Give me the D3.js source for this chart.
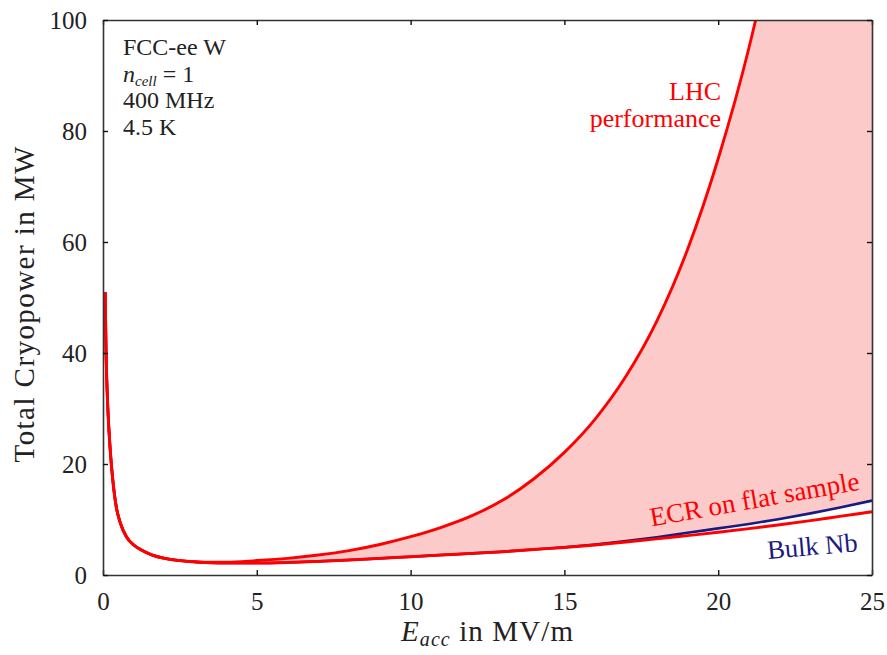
<!DOCTYPE html>
<html>
<head>
<meta charset="utf-8">
<script src="https://cdn.jsdelivr.net/npm/d3@7"></script>
<style>
  html, body { margin: 0; padding: 0; background: #fff; }
  svg { display: block; }
  text { font-family: "Liberation Serif", "DejaVu Serif", serif; }
</style>
</head>
<body>
<svg id="chart" width="887" height="655"></svg>
<script>
// ---- data ----
const eacc = [0.07, 0.1, 0.15, 0.2, 0.27, 0.35, 0.43, 0.55, 0.76, 1.0, 1.25, 1.6, 2.0, 2.5, 3.0, 3.5, 4, 5, 6, 7, 8, 9, 10, 11, 12, 13, 14, 15, 16, 17, 18, 19, 20, 21, 22, 23, 24, 25];
const bulkNb = [51, 40, 31, 25.5, 20, 15.5, 12.3, 9.6, 6.9, 5.4, 4.5, 3.6, 3.0, 2.6, 2.35, 2.2, 2.15, 2.15, 2.25, 2.45, 2.7, 3.0, 3.3, 3.6, 3.9, 4.2, 4.6, 5.0, 5.5, 6.1, 6.8, 7.6, 8.4, 9.2, 10.1, 11.1, 12.2, 13.4];
const ecrFlat = [51, 40, 31, 25.5, 20, 15.5, 12.3, 9.6, 6.9, 5.4, 4.5, 3.6, 3.0, 2.6, 2.35, 2.2, 2.15, 2.15, 2.25, 2.45, 2.7, 3.0, 3.3, 3.6, 3.9, 4.2, 4.6, 4.95, 5.4, 5.95, 6.5, 7.1, 7.7, 8.35, 9.05, 9.8, 10.6, 11.4];
const lhcPerf = [51, 40, 31, 25.5, 20, 15.5, 12.3, 9.6, 6.9, 5.4, 4.5, 3.6, 3.0, 2.6, 2.4, 2.3, 2.3, 2.6, 3.0, 3.6, 4.4, 5.5, 6.9, 8.6, 10.7, 13.5, 17.3, 22.1, 28.1, 35.8, 45.7, 58.6, 75, 95, 120, 150, 188, 235];
const xTicks = [0, 5, 10, 15, 20, 25];
const yTicks = [0, 20, 40, 60, 80, 100];
const infoLines = ["FCC-ee W", "n_cell = 1", "400 MHz", "4.5 K"];

// ---- layout ----
const svg = d3.select("#chart");
const mL = 103, mR = 872, mT = 20, mB = 575;
const x = d3.scaleLinear().domain([0, 25]).range([mL, mR]);
const y = d3.scaleLinear().domain([0, 100]).range([mB, mT]);

svg.append("defs").append("clipPath").attr("id", "plotclip")
  .append("rect").attr("x", mL).attr("y", mT).attr("width", mR - mL).attr("height", mB - mT);

const plot = svg.append("g").attr("clip-path", "url(#plotclip)");

// fill between bulk Nb and LHC
const fillData = lhcPerf.map((v, i) => ({ e: eacc[i], lo: bulkNb[i], hi: v }));
plot.append("path").datum(fillData)
  .attr("fill", "#fdcaca")
  .attr("d", d3.area().x(d => x(d.e)).y0(d => y(d.lo)).y1(d => y(d.hi)).curve(d3.curveMonotoneX));

const line = d3.line().x(d => x(d[0])).y(d => y(d[1])).curve(d3.curveMonotoneX);
plot.append("path").datum(eacc.map((e, i) => [e, bulkNb[i]]))
  .attr("fill", "none").attr("stroke", "#1a1a80").attr("stroke-width", 2.6).attr("d", line);
plot.append("path").datum(eacc.map((e, i) => [e, ecrFlat[i]]))
  .attr("fill", "none").attr("stroke", "#ff0000").attr("stroke-width", 2.9).attr("d", line);
plot.append("path").datum(lhcPerf.map((v, i) => [eacc[i], v]))
  .attr("fill", "none").attr("stroke", "#ff0000").attr("stroke-width", 2.9).attr("d", line);

// ---- axes (frame with inward ticks on all sides) ----
const axCol = "#333";
const tl = 5;
const axB = svg.append("g").attr("transform", `translate(0,${mB})`)
  .call(d3.axisBottom(x).tickValues(xTicks).tickSizeInner(-tl).tickSizeOuter(0).tickPadding(17));
const axT = svg.append("g").attr("transform", `translate(0,${mT})`)
  .call(d3.axisTop(x).tickValues(xTicks).tickSizeInner(-tl).tickSizeOuter(0).tickFormat(""));
const axL = svg.append("g").attr("transform", `translate(${mL},0)`)
  .call(d3.axisLeft(y).tickValues(yTicks).tickSizeInner(-tl).tickSizeOuter(0).tickPadding(16));
const axR = svg.append("g").attr("transform", `translate(${mR},0)`)
  .call(d3.axisRight(y).tickValues(yTicks).tickSizeInner(-tl).tickSizeOuter(0).tickFormat(""));
[axB, axT, axL, axR].forEach(a => {
  a.select(".domain").attr("stroke", axCol).attr("stroke-width", 1.6);
  a.selectAll(".tick line").attr("stroke", "#111").attr("stroke-width", 1.4);
  a.selectAll(".tick text").attr("fill", "#222").attr("font-size", 25)
    .attr("font-family", "'Liberation Serif', serif");
});
axB.selectAll(".tick text").attr("dy", "0.71em");
axL.selectAll(".tick text").attr("dy", "0.33em");

// ---- axis titles ----
const xt = svg.append("text").attr("x", (mL + mR) / 2).attr("y", 641)
  .attr("text-anchor", "middle").attr("font-size", 29).attr("letter-spacing", 1.1).attr("fill", "#222");
xt.append("tspan").attr("font-style", "italic").text("E");
xt.append("tspan").attr("font-style", "italic").attr("font-size", 20).attr("dy", 5).text("acc");
xt.append("tspan").attr("dy", -5).text(" in MV/m");

svg.append("text").attr("transform", `translate(34,${(mT + mB) / 2 + 7}) rotate(-90)`)
  .attr("text-anchor", "middle").attr("font-size", 29).attr("fill", "#222")
  .attr("textLength", 316).attr("lengthAdjust", "spacing")
  .text("Total Cryopower in MW");

// ---- info block ----
const info = svg.append("g").attr("font-size", 24).attr("fill", "#222");
infoLines.forEach((s, i) => {
  const t = info.append("text").attr("x", 123).attr("y", 55 + i * 26.5);
  if (s.startsWith("n_cell")) {
    t.append("tspan").attr("font-style", "italic").text("n");
    t.append("tspan").attr("font-style", "italic").attr("font-size", 15).attr("dy", 4).text("cell");
    t.append("tspan").attr("dy", -4).text(s.replace("n_cell", ""));
  } else {
    t.text(s);
  }
});

// ---- curve labels ----
svg.append("text").attr("x", 721).attr("y", 100).attr("text-anchor", "end")
  .attr("font-size", 26).attr("fill", "#ff0000").text("LHC");
svg.append("text").attr("x", 721).attr("y", 127).attr("text-anchor", "end")
  .attr("font-size", 26).attr("fill", "#ff0000").text("performance");
svg.append("text").attr("transform", "translate(756,508) rotate(-10)")
  .attr("text-anchor", "middle").attr("font-size", 27).attr("fill", "#ff0000").text("ECR on flat sample");
svg.append("text").attr("transform", "translate(813,555) rotate(-5)")
  .attr("text-anchor", "middle").attr("font-size", 26.5).attr("fill", "#1a1a80").text("Bulk Nb");
</script>
</body>
</html>
